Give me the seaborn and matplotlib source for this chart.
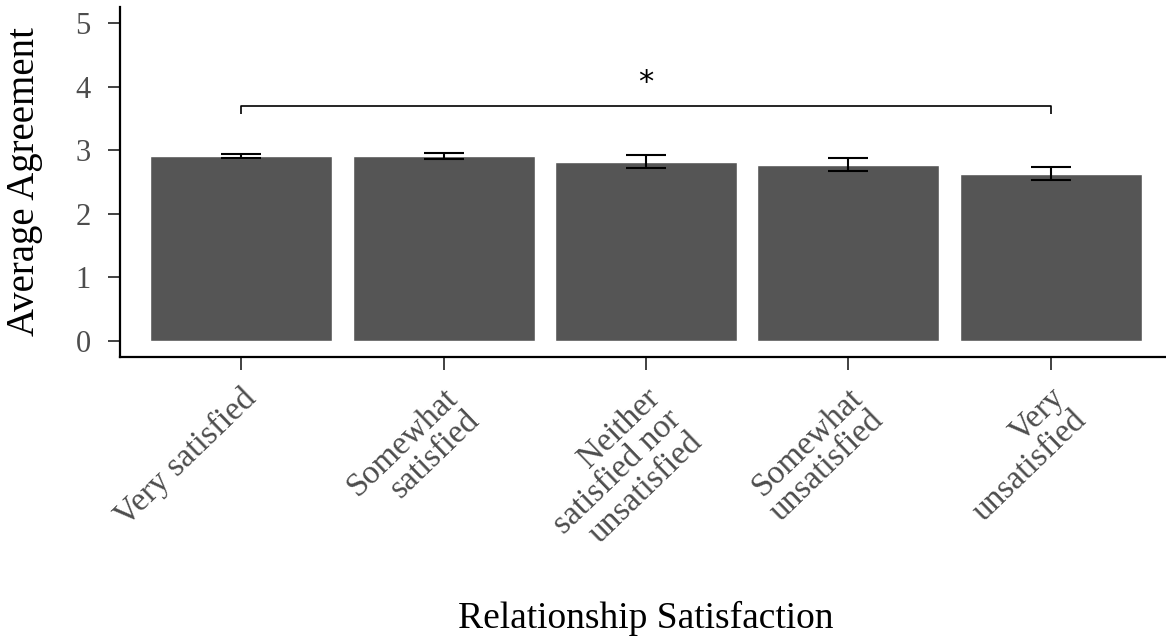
import matplotlib
matplotlib.use("Agg")
import matplotlib.pyplot as plt
import matplotlib.transforms as mtransforms
import seaborn as sns
import pandas as pd

# Mean agreement by relationship satisfaction group, with standard errors
categories = ["Very satisfied", "Somewhat\nsatisfied", "Neither\nsatisfied nor\nunsatisfied",
              "Somewhat\nunsatisfied", "Very\nunsatisfied"]
means = [2.91, 2.91, 2.82, 2.77, 2.63]
sems = [0.03, 0.05, 0.10, 0.105, 0.10]
y_ticks = [0, 1, 2, 3, 4, 5]

# Significance bracket between the two extreme groups
bracket_from, bracket_to = 0, 4
bracket_y, bracket_tip = 3.70, 3.57
bracket_label = "*"

sns.set_theme(style="ticks")
plt.rcParams["font.family"] = ["Liberation Serif", "DejaVu Serif"]

df = pd.DataFrame({"group": categories, "mean": means, "sem": sems})

fig = plt.figure(figsize=(11.66, 6.41), dpi=100)
ax = fig.add_axes([120 / 1166, 1 - 357 / 641, 1052 / 1166, 350 / 641])

sns.barplot(data=df, x="group", y="mean", color="#555555", saturation=1,
            width=0.9, errorbar=None, ax=ax)
ax.errorbar(x=range(len(df)), y=df["mean"], yerr=df["sem"], fmt="none",
            ecolor="black", elinewidth=1.5, capsize=14.4, capthick=1.5)

ax.plot([bracket_from, bracket_from, bracket_to, bracket_to],
        [bracket_tip, bracket_y, bracket_y, bracket_tip], color="black", lw=1.2,
        solid_capstyle="butt")
ax.text((bracket_from + bracket_to) / 2, 3.93, bracket_label, ha="center", va="baseline",
        fontsize=22, family="DejaVu Sans", color="black")

ax.set_xlim(-0.6, 4.6)
ax.set_ylim(-0.25, 5.25)
ax.set_yticks(y_ticks)
ax.set_yticklabels([str(v) for v in y_ticks])

sns.despine(ax=ax)
for side in ("left", "bottom"):
    ax.spines[side].set_linewidth(1.6)
    ax.spines[side].set_color("black")

ax.tick_params(axis="both", length=9, width=1.3, color="#333333",
               labelcolor="#4D4D4D")
ax.tick_params(axis="y", pad=12, labelsize=22)
ax.tick_params(axis="x", pad=0, labelsize=24)

offset = mtransforms.ScaledTranslation(-1 / 100, -13 / 100, fig.dpi_scale_trans)
for lab in ax.get_xticklabels():
    lab.set_rotation(44)
    lab.set_ha("right")
    lab.set_va("top")
    lab.set_rotation_mode("anchor")
    lab.set_multialignment("right")
    lab.set_linespacing(1.0)
    lab.set_transform(lab.get_transform() + offset)

ax.set_xlabel("Relationship Satisfaction", fontsize=27, color="black")
ax.set_ylabel("Average Agreement", fontsize=28, color="black")
ax.xaxis.label.set_va("baseline")
ax.xaxis.set_label_coords(0.5, (357 - 628) / 350)
ax.yaxis.label.set_va("center")
ax.yaxis.set_label_coords((25 - 120) / 1052, 0.5)

fig.savefig("out.png", dpi=100)
